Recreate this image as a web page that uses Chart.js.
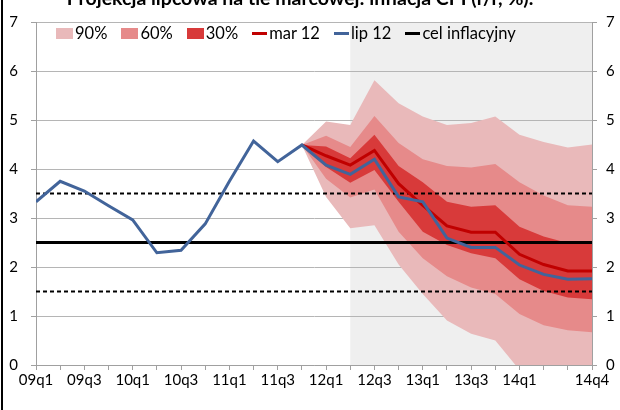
<!DOCTYPE html>
<html>
<head>
<meta charset="utf-8">
<script src="https://cdn.jsdelivr.net/npm/chart.js@4.4.1/dist/chart.umd.min.js"></script>
<style>
  body { margin: 0; background: #fff; }
  #wrap { position: relative; width: 620px; height: 410px; overflow: hidden; font-family: Lato, "Open Sans", sans-serif; color: #000; }
  #frame { position: absolute; left: 1px; top: 0; bottom: 0; border-left: 2px solid #000; }
  #title { position: absolute; left: 0; width: 600px; top: -12px; text-align: center; font-weight: bold; font-size: 19.5px; line-height: 19px; white-space: nowrap; }
  #legend { position: absolute; left: 56px; top: 24px; display: flex; align-items: center; font-size: 16.5px; line-height: 18px; }
  .item { display: flex; align-items: center; margin-right: 14px; }
  .box { width: 17px; height: 11px; margin-right: 2px; }
  .ln { width: 15px; height: 3px; margin-right: 2px; }
</style>
</head>
<body>
<div id="wrap">
  <canvas id="chart" width="620" height="410"></canvas>
  <div id="frame"></div>
  <div id="title">Projekcja lipcowa na tle marcowej: inflacja CPI (r/r, %).</div>
  <div id="legend"></div>
</div>
<script>
// quarters on the x axis
const quarters = ['09q1', '09q2', '09q3', '09q4', '10q1', '10q2', '10q3', '10q4',
  '11q1', '11q2', '11q3', '11q4', '12q1', '12q2', '12q3', '12q4',
  '13q1', '13q2', '13q3', '13q4', '14q1', '14q2', '14q3', '14q4'];
const xTickLabels = ['09q1', '', '09q3', '', '10q1', '', '10q3', '', '11q1', '', '11q3', '',
  '12q1', '', '12q3', '', '13q1', '', '13q3', '', '14q1', '', '', '14q4'];

// lip 12 (history + July projection)
const lip12 = [3.33, 3.75, 3.55, 3.25, 2.96, 2.29, 2.34, 2.88, 3.75, 4.57, 4.15, 4.49,
  4.08, 3.89, 4.2, 3.43, 3.33, 2.59, 2.4, 2.4, 2.04, 1.85, 1.75, 1.76];

// projection values from 11q4 onwards
const projStart = 11;
const mar12 = [4.49, 4.27, 4.08, 4.38, 3.7, 3.26, 2.84, 2.71, 2.71, 2.26, 2.05, 1.92, 1.92];
const up90 = [4.49, 4.97, 4.9, 5.81, 5.34, 5.07, 4.9, 4.94, 5.07, 4.7, 4.55, 4.44, 4.5];
const up60 = [4.49, 4.68, 4.45, 5.08, 4.53, 4.2, 4.06, 4.03, 4.1, 3.73, 3.46, 3.26, 3.23];
const up30 = [4.49, 4.46, 4.22, 4.7, 4.06, 3.73, 3.33, 3.23, 3.26, 2.82, 2.62, 2.49, 2.47];
const lo30 = [4.49, 4.04, 3.72, 3.98, 3.33, 2.72, 2.45, 2.28, 2.18, 1.75, 1.51, 1.38, 1.34];
const lo60 = [4.49, 3.8, 3.42, 3.58, 2.72, 2.18, 1.81, 1.58, 1.45, 1.04, 0.81, 0.71, 0.67];
const lo90 = [4.49, 3.43, 2.79, 2.85, 2.05, 1.45, 0.91, 0.64, 0.5, -0.1, -0.4, -0.6, -0.65];

// inflation target and tolerance band
const celInflacyjny = [2.5, 2.5, 2.5, 2.5, 2.5, 2.5, 2.5, 2.5, 2.5, 2.5, 2.5, 2.5,
  2.5, 2.5, 2.5, 2.5, 2.5, 2.5, 2.5, 2.5, 2.5, 2.5, 2.5, 2.5];
const tolUp = [3.5, 3.5, 3.5, 3.5, 3.5, 3.5, 3.5, 3.5, 3.5, 3.5, 3.5, 3.5,
  3.5, 3.5, 3.5, 3.5, 3.5, 3.5, 3.5, 3.5, 3.5, 3.5, 3.5, 3.5];
const tolDown = [1.5, 1.5, 1.5, 1.5, 1.5, 1.5, 1.5, 1.5, 1.5, 1.5, 1.5, 1.5,
  1.5, 1.5, 1.5, 1.5, 1.5, 1.5, 1.5, 1.5, 1.5, 1.5, 1.5, 1.5];

const yTicks = [0, 1, 2, 3, 4, 5, 6, 7];

const colors = {
  c90: '#e9b9ba',
  c60: '#e68a8a',
  c30: '#d83a3a',
  mar: '#c00000',
  lip: '#42649a',
  cel: '#000000',
  shade: '#efefef',
  grid: '#b5b5b5',
  axis: '#a0a0a0',
};

const pad = (arr) => Array(projStart).fill(null).concat(arr);

// grey background for the projection horizon
const shadePlugin = {
  id: 'shade',
  beforeDraw(chart) {
    const { ctx, chartArea, scales } = chart;
    const x0 = scales.x.getPixelForValue(13);
    ctx.save();
    ctx.fillStyle = colors.shade;
    ctx.fillRect(x0, chartArea.top, chartArea.right - x0, chartArea.bottom - chartArea.top);
    ctx.restore();
  },
};

function lineDs(label, data, color, width, order, extra) {
  return Object.assign({
    label: label,
    data: data,
    borderColor: color,
    backgroundColor: color,
    borderWidth: width,
    pointRadius: 0,
    tension: 0,
    fill: false,
    order: order,
    clip: 0,
  }, extra || {});
}

function bandDs(label, data, color, order, fill) {
  return {
    label: label,
    data: pad(data),
    borderWidth: 0,
    borderColor: 'rgba(0,0,0,0)',
    backgroundColor: color,
    pointRadius: 0,
    tension: 0,
    fill: fill,
    order: order,
  };
}

const tickFont = { family: 'Lato', size: 15 };

new Chart(document.getElementById('chart'), {
  type: 'line',
  data: {
    labels: quarters,
    datasets: [
      lineDs('lip 12', lip12, colors.lip, 3, 0),
      lineDs('mar 12', pad(mar12), colors.mar, 3, 1),
      lineDs('cel inflacyjny', celInflacyjny, colors.cel, 3, 2),
      lineDs('tol up', tolUp, colors.cel, 2.2, 2, { borderDash: [4, 3] }),
      lineDs('tol down', tolDown, colors.cel, 2.2, 2, { borderDash: [4, 3] }),
      bandDs('30% up', up30, colors.c30, 3, '+1'),
      bandDs('30% lo', lo30, colors.c30, 3, false),
      bandDs('60% up', up60, colors.c60, 4, '+1'),
      bandDs('60% lo', lo60, colors.c60, 4, false),
      bandDs('90% up', up90, colors.c90, 5, '+1'),
      bandDs('90% lo', lo90, colors.c90, 5, false),
    ],
  },
  options: {
    responsive: false,
    animation: false,
    devicePixelRatio: 1,
    layout: { padding: { top: 18, left: 0, right: 0, bottom: 0 } },
    plugins: {
      legend: { display: false },
      tooltip: { enabled: false },
    },
    scales: {
      x: {
        offset: false,
        grid: { drawOnChartArea: false, drawTicks: true, tickLength: 5, color: colors.axis, offset: false },
        border: { color: colors.axis },
        ticks: {
          autoSkip: false,
          maxRotation: 0,
          padding: 1,
          color: '#000',
          font: tickFont,
          callback: (val, i) => xTickLabels[i],
        },
        afterFit: (s) => { s.height = 45; },
      },
      y: {
        position: 'left',
        min: 0,
        max: 7,
        afterBuildTicks: (s) => { s.ticks = yTicks.map((v) => ({ value: v })); },
        grid: { color: colors.grid, tickLength: 5, tickColor: colors.axis },
        border: { color: colors.axis },
        ticks: { padding: 13, color: '#000', font: tickFont },
        afterFit: (s) => { s.width = 36; },
      },
      y2: {
        position: 'right',
        min: 0,
        max: 7,
        afterBuildTicks: (s) => { s.ticks = yTicks.map((v) => ({ value: v })); },
        grid: { drawOnChartArea: false, tickLength: 5, color: colors.axis },
        border: { color: colors.axis },
        ticks: { padding: 9, color: '#000', font: tickFont },
        afterFit: (s) => { s.width = 28; },
      },
    },
  },
  plugins: [shadePlugin],
});

// legend drawn as html inside the plot
const legendItems = [
  { text: '90%', color: colors.c90, kind: 'box' },
  { text: '60%', color: colors.c60, kind: 'box' },
  { text: '30%', color: colors.c30, kind: 'box' },
  { text: 'mar 12', color: colors.mar, kind: 'ln' },
  { text: 'lip 12', color: colors.lip, kind: 'ln' },
  { text: 'cel inflacyjny', color: colors.cel, kind: 'ln' },
];
const legendEl = document.getElementById('legend');
legendItems.forEach((it) => {
  const item = document.createElement('div');
  item.className = 'item';
  const sw = document.createElement('span');
  sw.className = it.kind;
  sw.style.background = it.color;
  const tx = document.createElement('span');
  tx.textContent = it.text;
  item.appendChild(sw);
  item.appendChild(tx);
  legendEl.appendChild(item);
});
</script>
</body>
</html>
